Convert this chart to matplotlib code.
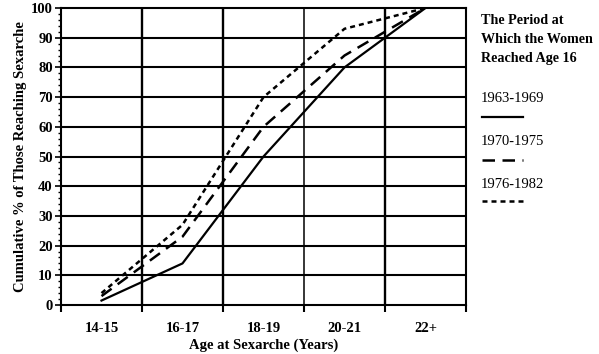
import matplotlib
matplotlib.use("Agg")
import matplotlib.pyplot as plt
from matplotlib.lines import Line2D
from matplotlib.ticker import MultipleLocator, FixedLocator

# ── Data ──
age_groups = ["14-15", "16-17", "18-19", "20-21", "22+"]
period_1963_1969 = [1.5, 14, 50, 80, 100]
period_1970_1975 = [3, 23, 60, 84, 100]
period_1976_1982 = [4, 27, 70, 93, 100]
periods = ["1963-1969", "1970-1975", "1976-1982"]

plt.rcParams["font.family"] = ["Liberation Serif", "DejaVu Serif"]

fig = plt.figure(figsize=(5.99, 3.54), dpi=100)
ax = fig.add_axes([61 / 599, 1 - 305 / 354, 405 / 599, 297 / 354])

x = list(range(len(age_groups)))
styles = [
    dict(linestyle="-", linewidth=1.6),
    dict(linestyle=(0, (5, 3)), linewidth=1.8),
    dict(linestyle=(0, (2, 1.6)), linewidth=1.8),
]
series = [period_1963_1969, period_1970_1975, period_1976_1982]
for vals, st in zip(series, styles):
    ax.plot(x, vals, color="black", zorder=3, **st)

ax.set_xlim(-0.5, len(age_groups) - 0.5)
ax.set_ylim(0, 100)

# gridlines
for yv in range(10, 100, 10):
    ax.axhline(yv, color="black", linewidth=1.5, zorder=1)
for xv in [0.5, 1.5, 2.5, 3.5]:
    ax.axvline(xv, color="black", linewidth=1.7 if xv != 2.5 else 1.1, zorder=1)

ax.set_xticks(x)
ax.set_xticklabels(age_groups, fontsize=10.5, fontweight="bold")
ax.xaxis.set_minor_locator(FixedLocator([-0.5, 0.5, 1.5, 2.5, 3.5, 4.5]))
ax.tick_params(axis="x", which="major", length=0, pad=12)
ax.tick_params(axis="x", which="minor", length=5, width=1.5, direction="out")

ax.yaxis.set_major_locator(MultipleLocator(10))
ax.yaxis.set_minor_locator(MultipleLocator(2))
ax.tick_params(axis="y", which="major", length=4, width=1.2, direction="out",
               labelsize=10.5, pad=2)
ax.tick_params(axis="y", which="minor", length=2, width=1, direction="out")
for lab in ax.get_yticklabels():
    lab.set_fontweight("bold")

for sp in ax.spines.values():
    sp.set_linewidth(1.5)

ax.set_xlabel("Age at Sexarche (Years)", fontsize=10.5, fontweight="bold", labelpad=3)
ax.set_ylabel("Cumulative % of Those Reaching Sexarche", fontsize=10.5,
              fontweight="bold", labelpad=3)

# ── Legend ──
fig.text(481 / 599, 1 - 14 / 354, "The Period at\nWhich the Women\nReached Age 16",
         fontsize=10.2, fontweight="bold", va="top", ha="left", linespacing=1.62)
label_y = [98, 141, 184]
line_y = [117, 160, 201]
for name, st, ly, sy in zip(periods, styles, label_y, line_y):
    fig.text(481 / 599, 1 - ly / 354, name, fontsize=10.5, va="center", ha="left")
    fig.add_artist(Line2D([482 / 599, 523 / 599], [1 - sy / 354, 1 - sy / 354],
                          color="black", transform=fig.transFigure, **st))

fig.savefig("out.png", dpi=100)
